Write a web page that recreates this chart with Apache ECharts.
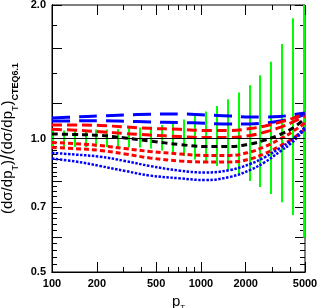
<!DOCTYPE html>
<html><head><meta charset="utf-8">
<script src="https://cdn.jsdelivr.net/npm/echarts@6/dist/echarts.min.js"></script>
<style>html,body{margin:0;padding:0;background:#fff}#c{width:318px;height:308px}</style>
</head><body><div id="c"></div>
<script>
// pT grid for the curves
const pT = [100, 142.7, 210, 309, 455, 724, 1065, 1568, 2137, 2695, 3398, 4091, 5000];
const blueLong1 = [1.112, 1.118, 1.124, 1.130, 1.134, 1.136, 1.130, 1.124, 1.118, 1.118, 1.121, 1.130, 1.142];
const blueLong2 = [1.095, 1.096, 1.097, 1.094, 1.089, 1.087, 1.082, 1.078, 1.078, 1.084, 1.095, 1.109, 1.133];
const redDash1  = [1.073, 1.073, 1.070, 1.062, 1.054, 1.049, 1.042, 1.042, 1.053, 1.067, 1.089, 1.109, 1.139];
const redDash2  = [1.049, 1.044, 1.036, 1.026, 1.018, 1.010, 1.005, 1.005, 1.016, 1.034, 1.059, 1.087, 1.124];
const blackDash = [1.024, 1.021, 1.016, 1.003, 0.987, 0.969, 0.959, 0.959, 0.972, 0.992, 1.021, 1.053, 1.109];
const redShort1 = [0.979, 0.974, 0.964, 0.949, 0.935, 0.923, 0.916, 0.916, 0.932, 0.959, 0.997, 1.034, 1.084];
const redShort2 = [0.954, 0.949, 0.940, 0.923, 0.904, 0.890, 0.885, 0.885, 0.899, 0.925, 0.962, 0.997, 1.051];
const blueDot1  = [0.928, 0.920, 0.910, 0.890, 0.867, 0.846, 0.838, 0.849, 0.876, 0.908, 0.952, 0.992, 1.062];
const blueDot2  = [0.901, 0.888, 0.867, 0.845, 0.825, 0.813, 0.806, 0.819, 0.849, 0.885, 0.935, 0.979, 1.051];

// green error bars
const barPT   = [101, 119.7, 141.8, 167.9, 198.8, 235.4, 278.8, 330.1, 390.9, 462.9, 548.2, 649.2, 768.8, 910.4, 1078, 1277, 1512, 1790, 2120, 2511, 2973, 3521, 4169, 4937];
const barHigh = [1.040, 1.042, 1.045, 1.045, 1.048, 1.048, 1.051, 1.056, 1.059, 1.064, 1.073, 1.087, 1.104, 1.124, 1.151, 1.184, 1.226, 1.269, 1.319, 1.389, 1.490, 1.634, 1.867, 2.3];
const barLow  = [0.957, 0.957, 0.957, 0.957, 0.957, 0.957, 0.954, 0.954, 0.954, 0.949, 0.940, 0.930, 0.913, 0.897, 0.883, 0.867, 0.849, 0.827, 0.802, 0.777, 0.750, 0.718, 0.672, 0.597];

// axis ticks
const xLabels = [100, 200, 500, 1000, 2000, 5000];
const xMinor  = [300, 400, 600, 700, 800, 900, 3000, 4000];
const yLabels = [0.5, 0.7, 1.0, 2.0];
const yMajor  = [0.6, 0.7, 0.8, 0.9, 1.0, 1.2, 1.6];
const yMinor  = [0.52, 0.54, 0.56, 0.58, 0.62, 0.64, 0.66, 0.68, 0.72, 0.74, 0.76, 0.78, 0.82, 0.84, 0.86, 0.88, 0.92, 0.94, 0.96, 0.98, 1.4, 1.8];

const chart = echarts.init(document.getElementById('c'), null, {renderer: 'canvas'});
const zip = a => pT.map((x, i) => [x, a[i]]);
const lab = {fontFamily: 'Liberation Sans', fontWeight: 'bold', fontSize: 11, color: '#000'};

function xAx(pos, ticks, len, showLabel) {
  return {type: 'log', min: 100, max: 5000, position: pos, gridIndex: 0,
    axisLine: {show: pos === 'bottom', onZero: false, lineStyle: {color: '#000', width: 1}},
    axisTick: {show: true, inside: true, length: len, customValues: ticks, lineStyle: {color: '#000', width: 1}},
    axisLabel: showLabel ? Object.assign({show: true, customValues: ticks, margin: 6, formatter: v => String(Math.round(v))}, lab) : {show: false},
    splitLine: {show: false}, minorTick: {show: false}};
}
function yAx(pos, ticks, len, showLabel) {
  return {type: 'log', min: 0.5, max: 2.0, position: pos, gridIndex: 0,
    axisLine: {show: pos === 'left', onZero: false, lineStyle: {color: '#000', width: 1}},
    axisTick: {show: true, inside: true, length: len, customValues: ticks, lineStyle: {color: '#000', width: 1}},
    axisLabel: showLabel ? Object.assign({show: true, customValues: ticks, margin: 6, formatter: v => v.toFixed(1)}, lab) : {show: false},
    splitLine: {show: false}, minorTick: {show: false}};
}

function lineSeries(data, color, width, dash) {
  return {type: 'line', data: zip(data), xAxisIndex: 0, yAxisIndex: 0, smooth: 0.4, showSymbol: false, symbol: 'none',
    lineStyle: {color: color, width: width, type: dash, cap: 'butt'}, silent: true, animation: false, z: 3};
}

const option = {
  animation: false,
  grid: {left: 52, right: 13, top: 5, bottom: 36, show: true, borderColor: '#000', borderWidth: 1,
    containLabel: false, outerBoundsMode: 'none'},
  xAxis: [
    Object.assign(xAx('bottom', xLabels, 10, true), {
      name: '{p|p}{s|T}', nameLocation: 'middle', nameGap: 21,
      nameTextStyle: {rich: {p: {fontFamily: 'Liberation Sans', fontSize: 15, verticalAlign: 'bottom', padding: [0, 0, 3, 0]}, s: {fontFamily: 'Liberation Sans', fontSize: 8, verticalAlign: 'bottom'}}}
    }),
    xAx('bottom', xMinor, 5, false),
    xAx('top', xLabels, 10, false),
    xAx('top', xMinor, 5, false)
  ],
  yAxis: [
    Object.assign(yAx('left', yLabels, 10, true), {
      name: '{a|(dσ/dp}{s|T}{a|)}{b|/}{a|(dσ/dp}{s|T}{a|)}{c|CTEQ6.1}', nameLocation: 'middle', nameGap: 23, nameRotate: 90,
      nameTextStyle: {rich: {
        a: {fontFamily: 'Liberation Sans', fontSize: 15, verticalAlign: 'bottom', padding: [0, 0, 4, 0]},
        b: {fontFamily: 'Liberation Sans', fontSize: 20, verticalAlign: 'bottom', padding: [0, 0, 1, 0]},
        s: {fontFamily: 'Liberation Sans', fontSize: 9, verticalAlign: 'bottom'},
        c: {fontFamily: 'Liberation Sans', fontWeight: 'bold', fontSize: 9, verticalAlign: 'bottom'}
      }}
    }),
    yAx('left', yMajor, 10, false),
    yAx('left', yMinor, 5, false),
    yAx('right', yMajor, 10, false),
    yAx('right', yMinor, 5, false),
    yAx('right', yLabels, 10, false)
  ],
  series: [
    {type: 'custom', xAxisIndex: 0, yAxisIndex: 0, silent: true, z: 2,
      data: barPT.map((x, i) => [x, barLow[i], barHigh[i]]),
      renderItem: function (params, api) {
        const p1 = api.coord([api.value(0), api.value(1)]);
        const p2 = api.coord([api.value(0), api.value(2)]);
        const cs = params.coordSys;
        const top = Math.max(p2[1], cs.y);
        const x = Math.round(p1[0]);
        return {type: 'line', shape: {x1: x, y1: p1[1], x2: x, y2: top},
          style: {stroke: '#00ff00', lineWidth: 2}};
      }},
    Object.assign(lineSeries(blackDash, '#000', 3, [6, 4]), {
      markLine: {silent: true, symbol: 'none', label: {show: false}, lineStyle: {color: '#000', width: 1, type: 'solid'}, data: [{yAxis: 1.0}]}}),
    lineSeries(blueLong1, '#0000ff', 3, [18, 9]),
    lineSeries(blueLong2, '#0000ff', 3, [18, 9]),
    lineSeries(redDash1, '#ff0000', 3, [10, 5]),
    lineSeries(redDash2, '#ff0000', 3, [10, 5]),
    lineSeries(redShort1, '#ff0000', 3, [5, 3]),
    lineSeries(redShort2, '#ff0000', 3, [5, 3]),
    lineSeries(blueDot1, '#0000ff', 2.5, [2.5, 1.5]),
    lineSeries(blueDot2, '#0000ff', 2.5, [2.5, 1.5])
  ]
};
chart.setOption(option);
</script></body></html>
